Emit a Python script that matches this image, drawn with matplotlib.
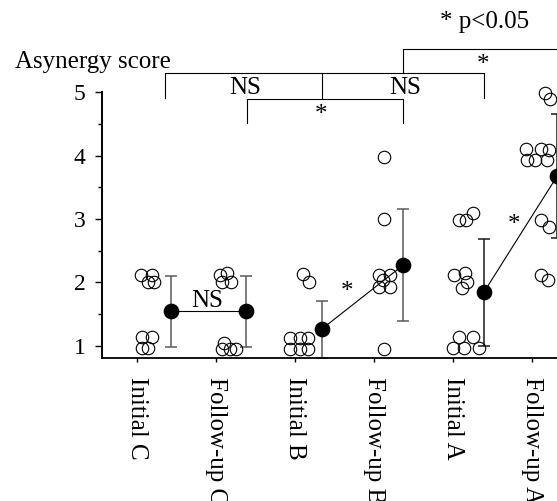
import matplotlib
matplotlib.use("Agg")
import matplotlib.pyplot as plt

plt.rcParams['font.family'] = ['Liberation Serif', 'DejaVu Serif']

# groups along the x axis
groups = ['Initial C', 'Follow-up C', 'Initial B', 'Follow-up B', 'Initial A', 'Follow-up A']

# individual asynergy scores per group
scores_ic = [2, 2, 2, 2, 1, 1, 1, 1]
scores_fc = [2, 2, 2, 2, 1, 1, 1, 1]
scores_ib = [2, 2, 1, 1, 1, 1, 1, 1]
scores_fb = [4, 3, 2, 2, 2, 2, 2, 1]
scores_ia = [3, 3, 3, 2, 2, 2, 2, 1, 1, 1, 1, 1]
scores_fa = [5, 5, 4, 4, 4, 4, 4, 4, 3, 3, 2, 2]

# group means and standard deviations
means = [1.54, 1.54, 1.26, 2.27, 1.84, 3.68]
sds = [0.56, 0.56, 0.45, 0.88, 0.84, 0.98]

# display jitter of the open circles (x offset from tick, y offset from score)
jit_x = [
    [0.06, 0.19, 0.14, 0.22, 0.07, 0.20, 0.07, 0.14],
    [0.06, 0.15, 0.08, 0.20, 0.10, 0.08, 0.18, 0.26],
    [0.11, 0.18, -0.06, 0.07, 0.17, -0.06, 0.07, 0.17],
    [0.13, 0.13, 0.06, 0.20, 0.12, 0.06, 0.20, 0.13],
    [0.08, 0.16, 0.25, 0.01, 0.15, 0.11, 0.18, 0.08, 0.25, 0.00, 0.14, 0.33],
    [0.17, 0.23, -0.08, 0.11, 0.21, -0.06, 0.04, 0.19, 0.11, 0.21, 0.11, 0.20],
]
jit_y = [
    [0.11, 0.11, 0.01, 0.01, 0.13, 0.13, -0.04, -0.04],
    [0.12, 0.14, 0.01, 0.01, 0.04, -0.06, -0.06, -0.05],
    [0.13, 0.01, 0.12, 0.12, 0.12, -0.06, -0.06, -0.06],
    [-0.02, 0.00, 0.12, 0.12, 0.03, -0.07, -0.07, -0.06],
    [-0.01, -0.01, 0.09, 0.12, 0.14, -0.09, 0.01, 0.14, 0.14, -0.04, -0.04, -0.04],
    [-0.02, -0.10, 0.11, 0.11, 0.09, -0.07, -0.07, -0.07, -0.02, -0.12, 0.12, 0.04],
]
mean_dx = [0.44, 0.39, 0.34, 0.37, 0.39, 0.32]
bar_colors = ['#5a5a5a', '#5a5a5a', '#5a5a5a', '#5a5a5a', '#1a1a1a', '#1a1a1a']

all_scores = [scores_ic, scores_fc, scores_ib, scores_fb, scores_ia, scores_fa]
pos = [1, 2, 3, 4, 5, 6]
fs = 18

fig = plt.figure(figsize=(5.57, 5.01), dpi=100)
ax = fig.add_axes([0.1826, 0.286, 0.8174, 0.530])

for i, sc in enumerate(all_scores):
    xs = [pos[i] + d for d in jit_x[i]]
    ys = [s + d for s, d in zip(sc, jit_y[i])]
    ax.plot(xs, ys, 'o', mfc='none', mec='black', ms=9, mew=0.8,
            clip_on=False, zorder=3)

xm = [p + d for p, d in zip(pos, mean_dx)]
for i in range(6):
    ax.errorbar(xm[i], means[i], yerr=sds[i], fmt='none', ecolor=bar_colors[i],
                elinewidth=1.1, capsize=4.3, capthick=1.1, zorder=2)
for a, b in [(0, 1), (2, 3), (4, 5)]:
    ax.plot([xm[a], xm[b]], [means[a], means[b]], color='black', lw=0.8, zorder=4)
ax.plot(xm, means, 'o', color='black', ms=10.3, ls='none', zorder=5)

# pairwise annotations
ax.text(1.895, 1.70, 'NS', fontsize=fs, ha='center', va='center')
ax.text(3.657, 1.84, '*', fontsize=fs, ha='center', va='center')
ax.text(5.77, 2.91, '*', fontsize=fs, ha='center', va='center')

# brackets above the plot
lk = dict(color='black', lw=0.8, clip_on=False)
ax.plot([1.363, 1.363, 5.391, 5.391], [4.907, 5.30, 5.30, 4.907], **lk)
ax.plot([3.339, 3.339], [5.30, 4.89], **lk)
ax.plot([2.396, 2.396, 4.372, 4.372], [4.51, 4.89, 4.89, 4.51], **lk)
ax.plot([4.372, 4.372, 6.6], [5.30, 5.68, 5.68], **lk)
ax.text(2.372, 5.065, 'NS', fontsize=fs, ha='center', va='center')
ax.text(4.394, 5.065, 'NS', fontsize=fs, ha='center', va='center')
ax.text(3.339, 4.64, '*', fontsize=fs, ha='center', va='center')
ax.text(5.38, 5.43, '*', fontsize=fs, ha='center', va='center')
ax.text(5.40, 6.11, '* p<0.05', fontsize=fs, ha='center', va='center', clip_on=False)

fig.text(14.9 / 557, 1 - 61.7 / 501, 'Asynergy score', fontsize=fs, ha='left', va='center')

ax.set_xlim(0.56, 6.316)
ax.set_ylim(0.81, 5.0)
ax.set_yticks([1, 2, 3, 4, 5])
ax.set_yticks([1.5, 2.5, 3.5, 4.5], minor=True)
ax.set_xticks(pos)
ax.set_xticklabels(groups, rotation=270, ha='center', va='top')
ax.tick_params(axis='y', which='major', length=4.8, width=1, direction='out',
               pad=7, labelsize=17)
ax.tick_params(axis='y', which='minor', length=2.6, width=1, direction='out')
ax.tick_params(axis='x', which='major', length=2.6, width=1, direction='out',
               pad=11, labelsize=fs)
for s in ['top', 'right']:
    ax.spines[s].set_visible(False)
ax.spines['left'].set_linewidth(1.4)
ax.spines['bottom'].set_linewidth(1.3)

fig.savefig('out.png', dpi=100)
